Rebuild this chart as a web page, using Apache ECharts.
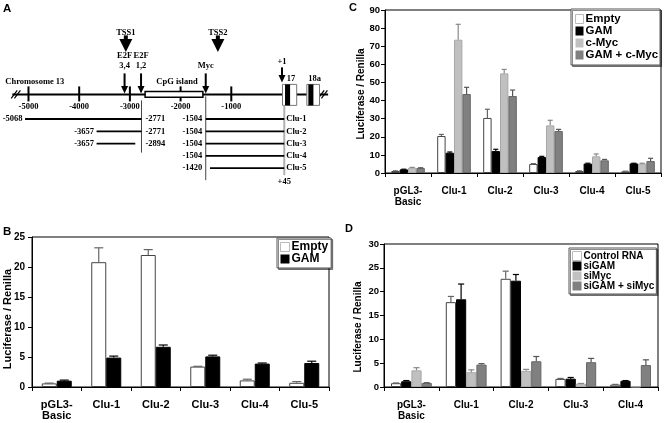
<!DOCTYPE html>
<html><head><meta charset="utf-8">
<script src="https://cdn.jsdelivr.net/npm/echarts@6/dist/echarts.min.js"></script>
<style>html,body{margin:0;padding:0;background:#fff}#c{width:664px;height:423px}</style>
</head><body><div id="c"></div>
<script>
// ---------- Panel A: promoter map data (bp positions) ----------
const mapTicks = [-5000, -4000, -3000, -2000, -1000];
const chromSpan = [-5320, 910];
const breakMarks = [-5250, 805];
const cpgIsland = [-2700, -1560];
const exonNames = ['17', '18a'];
const exonStart = [10, 490];
const exonEnd = [290, 740];
const exonCoreStart = [60, 520];
const exonCoreEnd = [160, 620];
const siteNames = ['E2F\n3,4', 'E2F\n1,2', 'Myc'];
const sitePos = [-3105, -2780, -1504];
const tssNames = ['TSS1', 'TSS2'];
const tssPos = [-3080, -1265];
const startSite = [0];
const rowNames = ['map', 'gap', 'Clu-1', 'Clu-2', 'Clu-3', 'Clu-4', 'Clu-5'];
const constructNames = ['Clu-1', 'Clu-2', 'Clu-3', 'Clu-4', 'Clu-5'];
const upStart = [-5068, -3657, -3657, null, null];
const upEnd = [-2771, -2771, -2894, null, null];
const proxStart = [-1504, -1504, -1504, -1504, -1420];
const proxEnd = [45, 45, 45, 45, 45];
const guidePos = [-2771, -1504, 45];
const guideEndRow = ['Clu-3', 'Clu-5', 'Clu-5'];

// ---------- Panel B ----------
const catsB = ['pGL3-\nBasic', 'Clu-1', 'Clu-2', 'Clu-3', 'Clu-4', 'Clu-5'];
const B_empty = [0.6, 20.8, 22.0, 3.4, 1.1, 0.7];
const B_emptyErr = [0.05, 2.4, 0.9, 0.05, 0.2, 0.2];
const B_gam = [1.05, 4.9, 6.7, 5.1, 3.9, 4.0];
const B_gamErr = [0.1, 0.25, 0.3, 0.2, 0.1, 0.3];

// ---------- Panel C ----------
const catsC = ['pGL3-\nBasic', 'Clu-1', 'Clu-2', 'Clu-3', 'Clu-4', 'Clu-5'];
const C_empty = [1.1, 20.4, 30.4, 5.0, 1.1, 0.9];
const C_emptyErr = [0.1, 0.9, 4.8, 0.2, 0.1, 0.1];
const C_gam = [2.0, 11.2, 12.1, 8.8, 5.2, 5.3];
const C_gamErr = [0.1, 0.4, 1.0, 0.4, 0.2, 0.1];
const C_myc = [2.9, 73.6, 55.0, 26.3, 9.2, 5.2];
const C_mycErr = [0.2, 8.5, 2.2, 2.8, 1.3, 0.2];
const C_gamMyc = [2.8, 43.6, 42.5, 23.2, 7.0, 6.6];
const C_gamMycErr = [0.1, 3.7, 3.3, 0.9, 0.5, 1.5];

// ---------- Panel D ----------
const catsD = ['pGL3-\nBasic', 'Clu-1', 'Clu-2', 'Clu-3', 'Clu-4'];
const D_ctrl = [0.8, 17.8, 22.7, 1.7, 0.5];
const D_ctrlErr = [0.05, 1.2, 1.6, 0.1, 0.05];
const D_siGam = [1.2, 18.4, 22.3, 1.75, 1.3];
const D_siGamErr = [0.15, 3.2, 1.3, 0.25, 0.05];
const D_siMyc = [3.5, 3.1, 3.4, 0.7, 0.05];
const D_siMycErr = [0.55, 0.5, 0.3, 0.05, 0];
const D_both = [0.85, 4.7, 5.4, 5.2, 4.6];
const D_bothErr = [0.05, 0.2, 1.0, 0.8, 1.1];

const yTitle = 'Luciferase / Renilla';

// ---------- styling ----------
const SANS = '"Liberation Sans", Arial, sans-serif';
const SERIF = '"Liberation Serif", "Times New Roman", serif';
const fontA = 'bold 8.5px ' + SERIF;
const COL = {white: '#ffffff', black: '#000000', light: '#c0c0c0', dark: '#808080'};
const BORDER = {white: '#444444', black: '#000000', light: '#a8a8a8', dark: '#666666'};
const ERRC = {white: '#666666', black: '#000000', light: '#888888', dark: '#555555'};

function txt(text, x, y, align, va) {
  return {type: 'text', style: {text: text, x: x, y: y, align: align || 'center', verticalAlign: va || 'middle', font: fontA, fill: '#000', lineHeight: 9.5}};
}
function ln(x1, y1, x2, y2, color, w) {
  return {type: 'line', shape: {x1: x1, y1: y1, x2: x2, y2: y2}, style: {stroke: color, lineWidth: w}};
}

const A = {xAxisIndex: 0, yAxisIndex: 0, type: 'custom', silent: true, coordinateSystem: 'cartesian2d'};
const seriesA = [
  Object.assign({}, A, {name: 'chrom', data: [[chromSpan[0], chromSpan[1], 0]], encode: {x: [0, 1], y: 2},
    renderItem: (p, api) => {
      const a = api.coord([api.value(0), 0]), b = api.coord([api.value(1), 0]);
      return {type: 'group', children: [ln(a[0], a[1], b[0], b[1], '#000', 2),
        txt('Chromosome 13', a[0] - 7, a[1] - 13, 'left')]};
    }}),
  Object.assign({}, A, {name: 'breaks', data: breakMarks.map(v => [v, 0]), encode: {x: 0, y: 1},
    renderItem: (p, api) => {
      const c = api.coord([api.value(0), 0]);
      return {type: 'group', children: [-1.6, 1.6].map(d => ln(c[0] + d - 3, c[1] + 4, c[0] + d + 3, c[1] - 4, '#000', 1.2))};
    }}),
  Object.assign({}, A, {name: 'ticks', data: mapTicks.map(v => [v, 0]), encode: {x: 0, y: 1},
    renderItem: (p, api) => {
      const c = api.coord([api.value(0), 0]);
      return {type: 'group', children: [ln(c[0], c[1] - 8, c[0], c[1] + 7, '#000', 2),
        txt(String(api.value(0)), c[0], c[1] + 12.5)]};
    }}),
  Object.assign({}, A, {name: 'cpg', data: [[cpgIsland[0], cpgIsland[1], 0]], encode: {x: [0, 1], y: 2},
    renderItem: (p, api) => {
      const a = api.coord([api.value(0), 0]), b = api.coord([api.value(1), 0]);
      return {type: 'group', children: [
        {type: 'rect', shape: {x: a[0], y: a[1] - 2.8, width: b[0] - a[0], height: 5.6}, style: {fill: '#fff', stroke: '#000', lineWidth: 1.5}},
        txt('CpG island', (a[0] + b[0]) / 2 + 3, a[1] - 13)]};
    }}),
  Object.assign({}, A, {name: 'exons', data: exonNames.map((n, i) => [exonStart[i], exonEnd[i], exonCoreStart[i], exonCoreEnd[i], 0]), encode: {x: [0, 1, 2, 3], y: 4},
    renderItem: (p, api) => {
      const a = api.coord([api.value(0), 0]), b = api.coord([api.value(1), 0]);
      const c = api.coord([api.value(2), 0]), d = api.coord([api.value(3), 0]);
      return {type: 'group', children: [
        {type: 'rect', shape: {x: a[0], y: a[1] - 10, width: b[0] - a[0], height: 21}, style: {fill: '#fff', stroke: '#777', lineWidth: 1}},
        {type: 'rect', shape: {x: c[0], y: a[1] - 10, width: d[0] - c[0], height: 21}, style: {fill: '#000'}},
        txt(exonNames[p.dataIndex], (a[0] + b[0]) / 2 + 1.5, a[1] - 16)]};
    }}),
  Object.assign({}, A, {name: 'sites', data: sitePos.map(v => [v, 0]), encode: {x: 0, y: 1},
    renderItem: (p, api) => {
      const c = api.coord([api.value(0), 0]), x = c[0], y = c[1];
      return {type: 'group', children: [ln(x, y - 21, x, y - 8, '#000', 2),
        {type: 'polygon', shape: {points: [[x - 3.5, y - 8.5], [x + 3.5, y - 8.5], [x, y - 1]]}, style: {fill: '#000'}},
        txt(siteNames[p.dataIndex], x, y - 24, 'center', 'bottom')]};
    }}),
  Object.assign({}, A, {name: 'plus1', data: startSite.map(v => [v, 0]), encode: {x: 0, y: 1},
    renderItem: (p, api) => {
      const c = api.coord([api.value(0), 0]), x = c[0], y = c[1];
      return {type: 'group', children: [ln(x, y - 27, x, y - 19, '#000', 2),
        {type: 'polygon', shape: {points: [[x - 3.5, y - 19.5], [x + 3.5, y - 19.5], [x, y - 12]]}, style: {fill: '#000'}},
        txt('+' + (api.value(0) + 1), x, y - 33)]};
    }}),
  Object.assign({}, A, {name: 'tss', data: tssPos.map(v => [v, 0]), encode: {x: 0, y: 1},
    renderItem: (p, api) => {
      const c = api.coord([api.value(0), 0]), x = c[0], y = c[1];
      return {type: 'group', children: [txt(tssNames[p.dataIndex], x, y - 62),
        {type: 'rect', shape: {x: x - 2, y: y - 59, width: 4, height: 4}, style: {fill: '#000'}},
        {type: 'polygon', shape: {points: [[x - 6.5, y - 55.5], [x + 6.5, y - 55.5], [x, y - 42.5]]}, style: {fill: '#000'}}]};
    }}),
  Object.assign({}, A, {name: 'guides', data: guidePos.map((g, i) => [g, 0, rowNames.indexOf(guideEndRow[i])]), encode: {x: 0, y: [1, 2]},
    renderItem: (p, api) => {
      const i = p.dataIndex;
      const t = api.coord([api.value(0), 0]), b = api.coord([api.value(0), api.value(2)]);
      const top = [6, 2, 11][i], bot = [9, 12, 7][i];
      const col = i === 2 ? '#b0b0b0' : '#444', w = i === 2 ? 2 : 1;
      const ch = [ln(t[0], t[1] + top, b[0], b[1] + bot, col, w)];
      if (i === 2) ch.push(txt('+' + api.value(0), b[0], b[1] + 13.5));
      return {type: 'group', children: ch};
    }}),
  Object.assign({}, A, {name: 'upstream', data: constructNames.map((n, i) => [upStart[i], upEnd[i], i + 2]).filter(d => d[0] !== null), encode: {x: [0, 1], y: 2},
    renderItem: (p, api) => {
      const row = api.value(2);
      const a = api.coord([api.value(0), row]), b = api.coord([api.value(1), row]);
      const g = api.coord([guidePos[0], row]);
      return {type: 'group', children: [ln(a[0], a[1], b[0], b[1], '#000', 1.8),
        txt(String(api.value(0)), a[0] - 2.5, a[1], 'right'),
        txt(String(api.value(1)), g[0] + 4, a[1], 'left')]};
    }}),
  Object.assign({}, A, {name: 'proximal', data: constructNames.map((n, i) => [proxStart[i], proxEnd[i], i + 2]), encode: {x: [0, 1], y: 2},
    renderItem: (p, api) => {
      const row = api.value(2);
      const a = api.coord([api.value(0), row]), b = api.coord([api.value(1), row]);
      const g = api.coord([guidePos[1], row]);
      return {type: 'group', children: [ln(a[0], a[1], b[0], b[1], '#000', 1.8),
        txt(String(api.value(0)), g[0] - 3.5, a[1], 'right'),
        txt(constructNames[p.dataIndex], b[0] + 2, a[1], 'left')]};
    }})
];

// ---------- bar helpers ----------
function bars(names, keys, vals, xi, barW) {
  return names.map((n, k) => ({
    type: 'bar', name: n, xAxisIndex: xi, yAxisIndex: xi, data: vals[k], barWidth: barW, barGap: '0%', silent: true,
    itemStyle: {color: COL[keys[k]], borderColor: BORDER[keys[k]], borderWidth: 1}
  }));
}
function errs(id, keys, vals, errsArr, xi, barW) {
  const data = [];
  vals.forEach((arr, k) => arr.forEach((v, i) => data.push([i, v, errsArr[k][i], k])));
  const n = vals.length;
  return {
    type: 'custom', name: id, xAxisIndex: xi, yAxisIndex: xi, data: data, encode: {x: 0, y: 1}, z: 3, silent: true,
    renderItem: (p, api) => {
      const c = api.value(0), v = api.value(1), e = api.value(2), k = api.value(3);
      if (!(e > 0)) return;
      const base = api.coord([c, v]), top = api.coord([c, v + e]);
      const x = base[0] + (k - (n - 1) / 2) * barW, hw = barW * 0.3;
      const col = ERRC[keys[k]];
      return {type: 'group', children: [ln(x, base[1], x, top[1], col, 1.2), ln(x - hw, top[1], x + hw, top[1], col, 1.2)]};
    }
  };
}
function catAxis(gi, cats, fs) {
  return {type: 'category', gridIndex: gi, data: cats,
    axisLine: {lineStyle: {color: '#000', width: 1}},
    axisTick: {show: true, length: 4, lineStyle: {color: '#000'}},
    axisLabel: {interval: 0, margin: 12, color: '#000', fontFamily: SANS, fontWeight: 'bold', fontSize: fs, lineHeight: 11.5}};
}
function valAxis(gi, max, interval, fs, margin) {
  return {type: 'value', gridIndex: gi, min: 0, max: max, interval: interval,
    axisLine: {show: true, lineStyle: {color: '#000', width: 1}},
    axisTick: {show: true, length: 4, lineStyle: {color: '#000'}},
    splitLine: {show: false},
    axisLabel: {margin: margin, color: '#000', fontFamily: SANS, fontWeight: 'bold', fontSize: fs}};
}
const legendBase = {orient: 'vertical', selectedMode: false, icon: 'rect', itemGap: 0, backgroundColor: '#fff',
  borderColor: '#555', borderWidth: 1, borderRadius: 0, shadowColor: 'rgba(0,0,0,0.45)', shadowOffsetX: 1.5, shadowOffsetY: 1.5, shadowBlur: 0};
function legendItems(names, keys) {
  return names.map((n, k) => ({name: n, itemStyle: keys[k] === 'white' ? {color: '#fff', borderColor: '#bbb', borderWidth: 1} : {color: COL[keys[k]], borderWidth: 0}}));
}

const namesB = ['Empty', 'GAM'], keysB = ['white', 'black'];
const namesC = ['Empty', 'GAM', 'c-Myc', 'GAM + c-Myc'], keysC = ['white', 'black', 'light', 'dark'];
const namesD = ['Control RNA', 'siGAM', 'siMyc', 'siGAM + siMyc'], keysD = ['white', 'black', 'light', 'dark'];

const option = {
  animation: false,
  textStyle: {fontFamily: SANS},
  grid: [
    {left: 0, width: 664, top: 88.25, height: 86.1},
    {left: 32, top: 237, width: 297, height: 150, show: true, borderColor: '#000', borderWidth: 1},
    {left: 385, top: 10, width: 276, height: 163, show: true, borderColor: '#000', borderWidth: 1},
    {left: 384, top: 244, width: 274, height: 143, show: true, borderColor: '#000', borderWidth: 1}
  ],
  xAxis: [
    {type: 'value', gridIndex: 0, min: -5562, max: 7535, show: false},
    catAxis(1, catsB, 11), catAxis(2, catsC, 10), catAxis(3, catsD, 10)
  ],
  yAxis: [
    {type: 'category', gridIndex: 0, data: rowNames, inverse: true, show: false},
    valAxis(1, 25, 5, 10, 7), valAxis(2, 90, 10, 9.5, 5), valAxis(3, 30, 5, 9.5, 5)
  ],
  legend: [
    Object.assign({}, legendBase, {left: 277, top: 238, padding: [3, 3, 3, 3], itemWidth: 9, itemHeight: 9,
      textStyle: {fontFamily: SANS, fontWeight: 'bold', fontSize: 12, lineHeight: 11, color: '#000', padding: [0, 0, 0, -3]},
      data: legendItems(namesB, keysB)}),
    Object.assign({}, legendBase, {left: 571, top: 9, padding: [4, 2, 4, 4], itemWidth: 8, itemHeight: 9,
      textStyle: {fontFamily: SANS, fontWeight: 'bold', fontSize: 11.5, lineHeight: 11.3, color: '#000', padding: [0, 0, 0, -3]},
      data: legendItems(namesC, keysC)}),
    Object.assign({}, legendBase, {left: 569, top: 248, padding: [3, 2, 3, 3], itemWidth: 9, itemHeight: 9,
      textStyle: {fontFamily: SANS, fontWeight: 'bold', fontSize: 10, lineHeight: 9.6, color: '#000', padding: [0, 0, 0, -3]},
      data: legendItems(namesD, keysD)})
  ],
  graphic: [
    {type: 'text', left: 3, top: 3, style: {text: 'A', font: 'bold 11.5px ' + SANS, fill: '#000'}},
    {type: 'text', left: 3, top: 226, style: {text: 'B', font: 'bold 11.5px ' + SANS, fill: '#000'}},
    {type: 'text', left: 349, top: 2, style: {text: 'C', font: 'bold 11px ' + SANS, fill: '#000'}},
    {type: 'text', left: 345, top: 223, style: {text: 'D', font: 'bold 11px ' + SANS, fill: '#000'}},
    {type: 'text', x: 7.5, y: 319, rotation: Math.PI / 2, style: {text: yTitle, align: 'center', verticalAlign: 'middle', font: 'bold 11px ' + SANS, fill: '#000'}},
    {type: 'text', x: 361, y: 94, rotation: Math.PI / 2, style: {text: yTitle, align: 'center', verticalAlign: 'middle', font: 'bold 10px ' + SANS, fill: '#000'}},
    {type: 'text', x: 358.5, y: 327, rotation: Math.PI / 2, style: {text: yTitle, align: 'center', verticalAlign: 'middle', font: 'bold 10px ' + SANS, fill: '#000'}}
  ],
  series: [].concat(
    seriesA,
    bars(namesB, keysB, [B_empty, B_gam], 1, 15),
    [errs('errB', keysB, [B_empty, B_gam], [B_emptyErr, B_gamErr], 1, 15)],
    bars(namesC, keysC, [C_empty, C_gam, C_myc, C_gamMyc], 2, 8.4),
    [errs('errC', keysC, [C_empty, C_gam, C_myc, C_gamMyc], [C_emptyErr, C_gamErr, C_mycErr, C_gamMycErr], 2, 8.4)],
    bars(namesD, keysD, [D_ctrl, D_siGam, D_siMyc, D_both], 3, 10.2),
    [errs('errD', keysD, [D_ctrl, D_siGam, D_siMyc, D_both], [D_ctrlErr, D_siGamErr, D_siMycErr, D_bothErr], 3, 10.2)]
  )
};
const chart = echarts.init(document.getElementById('c'));
chart.setOption(option);
</script>
</body></html>
